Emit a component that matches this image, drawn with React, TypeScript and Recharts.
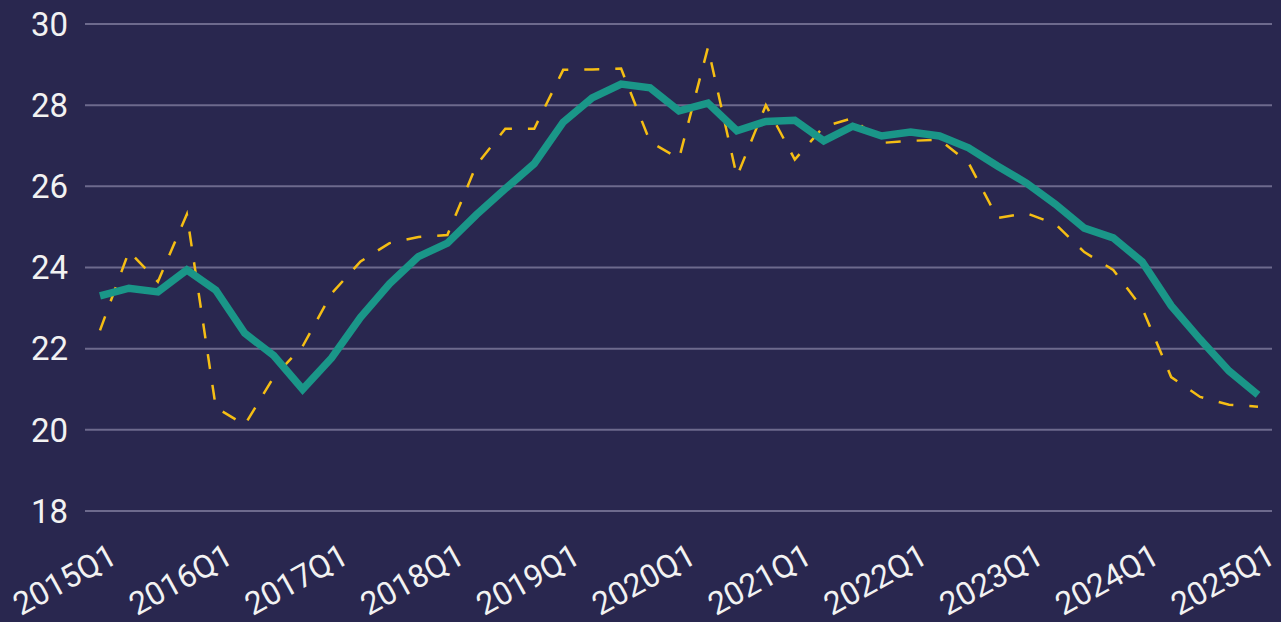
import React from 'react';
import { LineChart, Line, XAxis, YAxis, CartesianGrid } from 'recharts';

// quarters 2015Q1 .. 2025Q1
const years = [2015, 2016, 2017, 2018, 2019, 2020, 2021, 2022, 2023, 2024, 2025];
const quarters: string[] = [];
years.forEach((y) => {
    for (let q = 1; q <= 4; q++) {
        if (y === 2025 && q > 1) break;
        quarters.push(`${y}Q${q}`);
    }
});

// smoothed series (solid teal)
const trendValues = [
    23.3, 23.49, 23.4, 23.94, 23.44, 22.38, 21.83, 21.0,
    21.77, 22.77, 23.6, 24.27, 24.6, 25.3, 25.94, 26.56,
    27.58, 28.18, 28.52, 28.43, 27.86, 28.05, 27.37, 27.6,
    27.63, 27.12, 27.48, 27.24, 27.34, 27.24, 26.95, 26.5,
    26.08, 25.56, 24.97, 24.73, 24.14, 23.06, 22.23, 21.45,
    20.86,
];

// quarterly series (dashed yellow)
const quarterlyValues = [
    22.45, 24.4, 23.65, 25.31, 20.55, 20.12, 21.3, 22.06,
    23.36, 24.15, 24.6, 24.75, 24.8, 26.52, 27.42, 27.42,
    28.87, 28.88, 28.9, 27.1, 26.68, 29.42, 26.24, 28.0,
    26.66, 27.47, 27.68, 27.07, 27.12, 27.15, 26.58, 25.22,
    25.34, 25.07, 24.38, 23.94, 23.0, 21.3, 20.81, 20.62,
    20.57,
];

const yTicks = [18, 20, 22, 24, 26, 28, 30];

const data = quarters.map((q, i) => ({
    name: q,
    trend: trendValues[i],
    quarterly: quarterlyValues[i],
}));

const FONT = 'Roboto, "Noto Sans", sans-serif';

const AngledTick: React.FC<any> = ({ x, y, payload }) => {
    const ax = x + 19;
    const ay = y + 43;
    return (
        <text
            x={ax}
            y={ay}
            textAnchor="end"
            fill="#f2f2f2"
            fontSize={32}
            fontFamily={FONT}
            transform={`rotate(-29, ${ax}, ${ay})`}
        >
            {payload.value}
        </text>
    );
};

export default function App() {
    return (
        <div style={{ position: 'fixed', left: 0, top: 0, width: 1281, height: 622, background: '#29274f' }}>
            <LineChart width={1281} height={622} data={data} margin={{ top: 24, right: 9, left: 0, bottom: 0 }}>
                <CartesianGrid horizontal vertical={false} stroke="#6d6a8d" strokeWidth={2} />
                <XAxis
                    dataKey="name"
                    interval={3}
                    height={111}
                    axisLine={false}
                    tickLine={false}
                    padding={{ left: 15, right: 14 }}
                    tick={<AngledTick />}
                />
                <YAxis
                    domain={[18, 30]}
                    ticks={yTicks}
                    width={85}
                    axisLine={false}
                    tickLine={false}
                    tickMargin={11}
                    tick={{ fill: '#f2f2f2', fontSize: 33, fontFamily: FONT }}
                />
                <Line
                    type="linear"
                    dataKey="quarterly"
                    stroke="#f5be14"
                    strokeWidth={2.5}
                    strokeDasharray="15 16"
                    dot={false}
                    isAnimationActive={false}
                />
                <Line
                    type="linear"
                    dataKey="trend"
                    stroke="#1a9688"
                    strokeWidth={7.5}
                    dot={false}
                    isAnimationActive={false}
                />
            </LineChart>
        </div>
    );
}
